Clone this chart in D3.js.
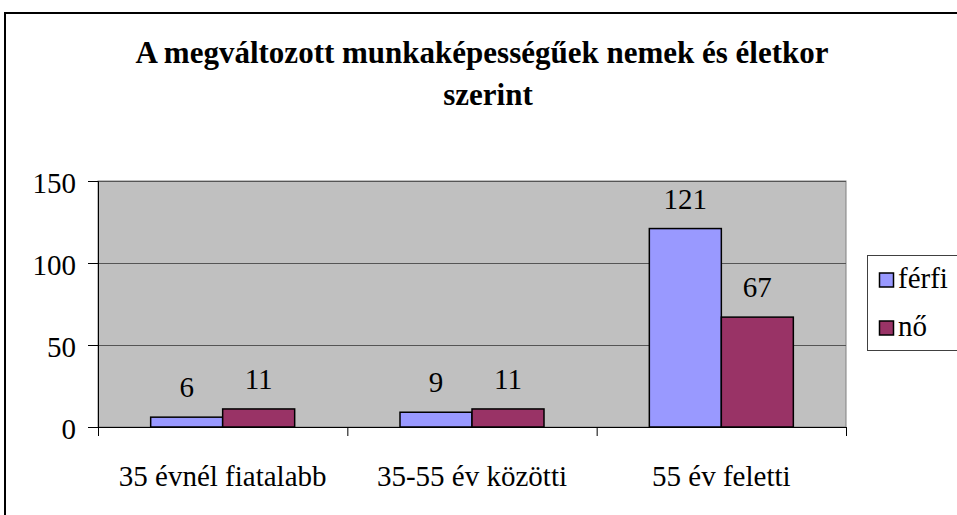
<!DOCTYPE html>
<html><head><meta charset="utf-8">
<script src="https://cdn.jsdelivr.net/npm/d3@7"></script>
<style>body{margin:0;background:#fff}svg{display:block}</style>
</head><body>
<svg id="c" width="957" height="515"></svg>
<script>
const categories = ["35 évnél fiatalabb", "35-55 év közötti", "55 év feletti"];
const seriesNames = ["férfi", "nő"];
const ferfi = [6, 9, 121];
const no = [11, 11, 67];
const yTicks = [0, 50, 100, 150];
const colors = ["#9999FF", "#993366"];
const titleLines = ["A megváltozott munkaképességűek nemek és életkor", "szerint"];

(function(){
const svg = d3.select("#c");
const font = "'Liberation Serif','Times New Roman',Tinos,'DejaVu Serif','Noto Serif',serif";
svg.append("rect").attr("x",5).attr("y",13).attr("width",1000).attr("height",600)
  .attr("fill","#fff").attr("stroke","#000").attr("stroke-width",2);

const pL=98, pR=846, pT=181, pB=427;
const x = d3.scaleBand().domain(categories).range([pL,pR]);
const y = d3.scaleLinear().domain([0,150]).range([pB,pT]);

svg.append("rect").attr("x",pL).attr("y",pT).attr("width",pR-pL).attr("height",pB-pT)
  .attr("fill","#C0C0C0").attr("stroke","#808080").attr("stroke-width",1);

svg.append("g").selectAll("line").data(yTicks.filter(d=>d>0)).join("line")
  .attr("x1",pL).attr("x2",pR).attr("y1",d=>y(d)+0.5).attr("y2",d=>y(d)+0.5)
  .attr("stroke","#555").attr("stroke-width",1);

const yAxis = svg.append("g").attr("transform",`translate(${pL},0)`)
  .call(d3.axisLeft(y).tickValues(yTicks).tickSize(10).tickPadding(12));
yAxis.attr("font-family",null).attr("font-size",null);
yAxis.select(".domain").attr("stroke","#000");
yAxis.selectAll("line").attr("stroke","#000");
yAxis.selectAll("text").style("font-family",font).style("font-size","29px").attr("fill","#000").attr("dy","0.4em");

const xAxisG = svg.append("g").attr("transform",`translate(0,${pB})`);
xAxisG.append("line").attr("x1",pL).attr("x2",pR).attr("y1",0.5).attr("y2",0.5).attr("stroke","#000");
const bounds = [pL, ...categories.map(c=>x(c)+x.bandwidth())];
xAxisG.selectAll("line.t").data(bounds).join("line").attr("class","t")
  .attr("x1",d=>d+0.5).attr("x2",d=>d+0.5).attr("y1",0).attr("y2",9).attr("stroke","#000");
xAxisG.selectAll("text").data(categories).join("text")
  .attr("x",d=>x(d)+x.bandwidth()/2).attr("y",59).attr("text-anchor","middle")
  .style("font-family",font).style("font-size","29px").text(d=>d);

const x1 = d3.scaleBand().domain(seriesNames).range([0,144]);
const data = categories.map((c,i)=>({c, vals:[ferfi[i], no[i]]}));
const g = svg.append("g");
data.forEach(d=>{
  const off = x(d.c) + (x.bandwidth()-144)/2;
  d.vals.forEach((v,j)=>{
    const bx = off + x1(seriesNames[j]);
    g.append("rect").attr("x",bx).attr("y",y(v)).attr("width",x1.bandwidth()).attr("height",pB-y(v))
      .attr("fill",colors[j]).attr("stroke","#000").attr("stroke-width",1.5);
    g.append("text").attr("x",bx+x1.bandwidth()/2).attr("y",y(v)-20).attr("text-anchor","middle")
      .style("font-family",font).style("font-size","29px").text(v);
  });
});

svg.selectAll("text.title").data(titleLines).join("text").attr("class","title")
  .attr("x",(d,i)=>i===0?482:488).attr("y",(d,i)=>i===0?63:105).attr("text-anchor","middle")
  .style("font-family",font).style("font-weight","bold").style("font-size","31px").text(d=>d);

const lg = svg.append("g");
lg.append("rect").attr("x",867.5).attr("y",255.5).attr("width",120).attr("height",95)
  .attr("fill","#fff").attr("stroke","#404040").attr("stroke-width",1);
seriesNames.forEach((s,i)=>{
  lg.append("rect").attr("x",879.5).attr("y",273+i*48).attr("width",14).attr("height",14)
    .attr("fill",colors[i]).attr("stroke","#000").attr("stroke-width",1.5);
  lg.append("text").attr("x",898).attr("y",288+i*48).style("font-family",font).style("font-size","29px").text(s);
});
})();
</script>
</body></html>
